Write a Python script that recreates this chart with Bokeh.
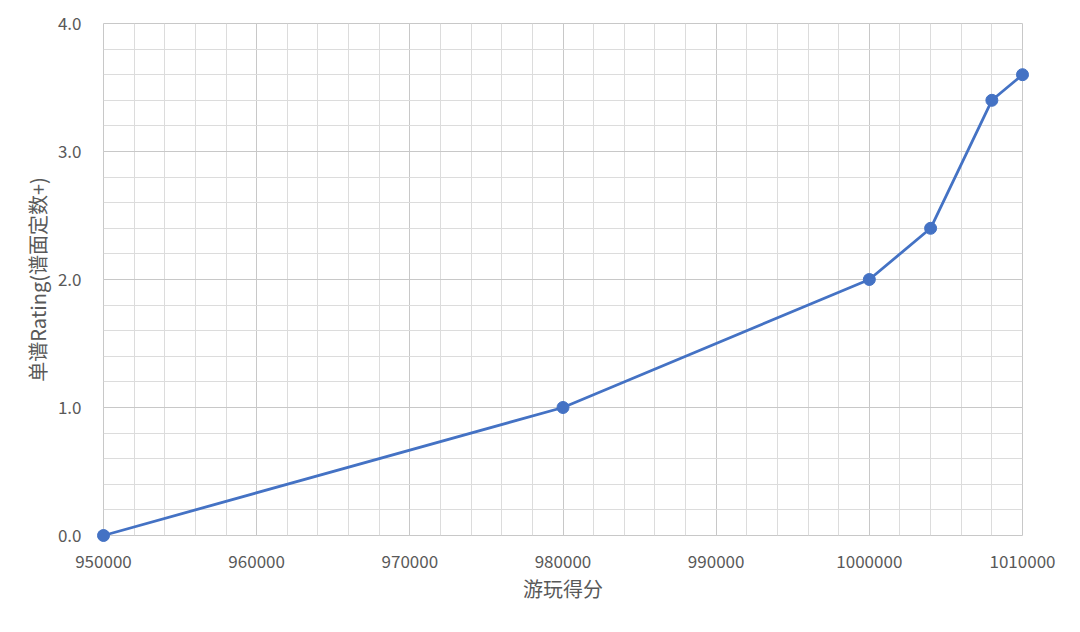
from bokeh.plotting import figure
from bokeh.models import Range1d, SingleIntervalTicker, NumeralTickFormatter, PrintfTickFormatter
from bokeh.embed import file_html
from bokeh.resources import INLINE

scores = [950000, 980000, 1000000, 1004000, 1008000, 1010000]
ratings = [0.0, 1.0, 2.0, 2.4, 3.4, 3.6]

x_label = "游玩得分"
y_label = "单谱Rating(谱面定数+)"

FONT = "Noto Sans CJK SC"
LINE = "#4472C4"

p = figure(width=1064, height=616, output_backend="svg", toolbar_location=None,
           x_range=Range1d(950000, 1010000), y_range=Range1d(0, 4.0),
           min_border_left=103, min_border_top=23, min_border_right=42, min_border_bottom=81)

p.outline_line_color = "#c8c8c8"
p.outline_line_width = 1
p.background_fill_color = "white"
p.border_fill_color = "white"

p.xaxis.ticker = SingleIntervalTicker(interval=10000, num_minor_ticks=5)
p.yaxis.ticker = SingleIntervalTicker(interval=1, num_minor_ticks=5)
p.xgrid.ticker = p.xaxis.ticker
p.ygrid.ticker = p.yaxis.ticker
p.xaxis.formatter = NumeralTickFormatter(format="0")
p.yaxis.formatter = PrintfTickFormatter(format="%.1f")

for g in (p.xgrid, p.ygrid):
    g.grid_line_color = "#c8c8c8"
    g.grid_line_width = 1
    g.minor_grid_line_color = "#dcdcdc"
    g.minor_grid_line_width = 1

for ax in (p.xaxis, p.yaxis):
    ax.axis_line_color = None
    ax.major_tick_line_color = None
    ax.minor_tick_line_color = None
    ax.major_label_text_font = FONT
    ax.major_label_text_font_size = "17px"
    ax.major_label_text_color = "#595959"
    ax.axis_label_text_font = FONT
    ax.axis_label_text_font_size = "20px"
    ax.axis_label_text_color = "#595959"
    ax.axis_label_text_font_style = "normal"

p.xaxis.axis_label = x_label
p.yaxis.axis_label = y_label
p.xaxis.major_label_standoff = 13
p.yaxis.major_label_standoff = 16
p.xaxis.axis_label_standoff = 3
p.yaxis.axis_label_standoff = 3

p.line(scores, ratings, line_color=LINE, line_width=2.8, level="overlay")
p.scatter(scores, ratings, size=12, fill_color=LINE, line_color=LINE, level="overlay")

open("out.html", "w").write(file_html(p, INLINE))
